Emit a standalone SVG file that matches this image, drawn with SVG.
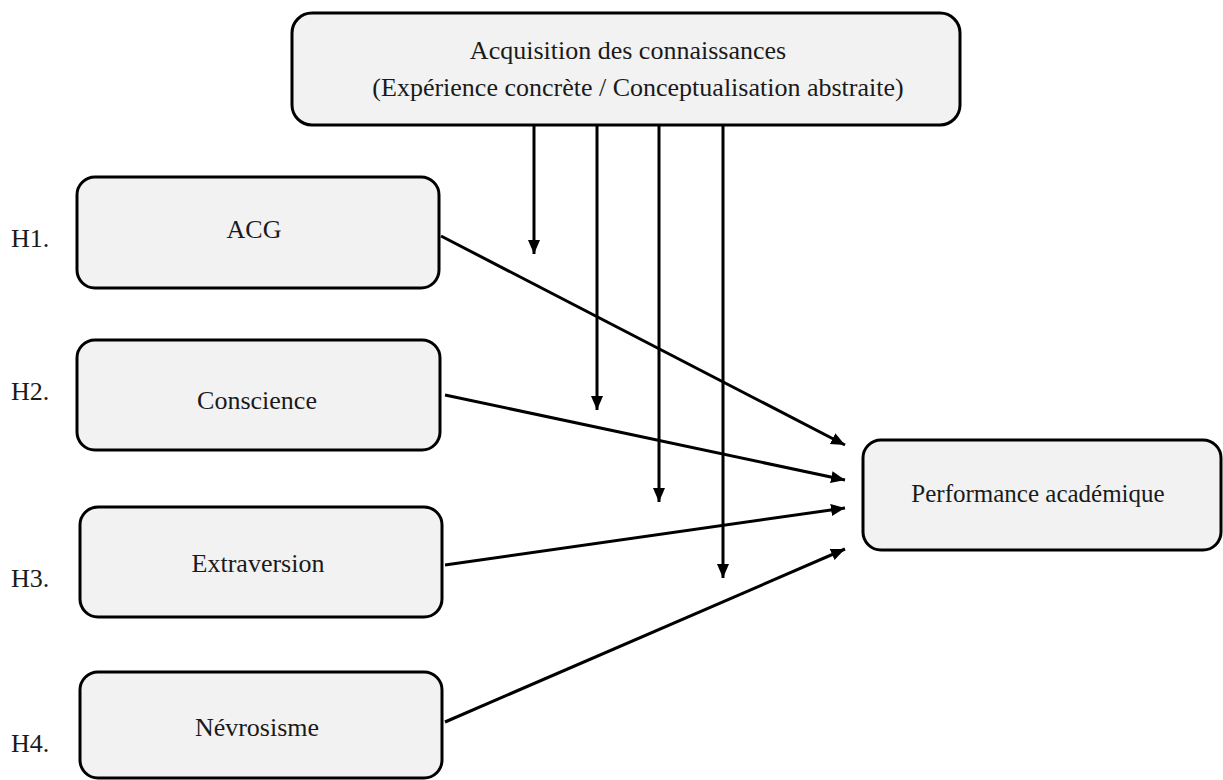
<svg xmlns="http://www.w3.org/2000/svg" width="1223" height="780" viewBox="0 0 1223 780">
<style>
.box{fill:#f2f2f2;stroke:#000;stroke-width:3}
.t{font-family:"Liberation Serif",serif;font-size:26px;fill:#1a1a1a;text-anchor:middle}
.h{font-family:"Liberation Serif",serif;font-size:26px;fill:#1a1a1a}
.c{stroke:#000;stroke-width:3;fill:none;marker-end:url(#ah)}
</style>
<defs>
<marker id="ah" markerUnits="userSpaceOnUse" markerWidth="16" markerHeight="14" refX="14" refY="6" orient="auto">
<path d="M0,0 L14,6 L0,12 z" fill="#000"/>
</marker>
</defs>
<rect width="1223" height="780" fill="#fff"/>
<g id="connectors">
<line class="c" x1="534" y1="125" x2="534" y2="254"/>
<line class="c" x1="597" y1="125" x2="597" y2="410"/>
<line class="c" x1="659" y1="125" x2="659" y2="502"/>
<line class="c" x1="723" y1="125" x2="723" y2="578"/>
<line class="c" x1="441" y1="236" x2="845" y2="445"/>
<line class="c" x1="445" y1="395" x2="845" y2="480"/>
<line class="c" x1="445" y1="565" x2="845" y2="508"/>
<line class="c" x1="445" y1="722" x2="845" y2="549"/>
</g>
<g id="top">
<rect class="box" x="292" y="13" width="668" height="112" rx="20"/>
<text class="t" x="628" y="59">Acquisition des connaissances</text>
<text class="t" x="638" y="96">(Expérience concrète / Conceptualisation abstraite)</text>
</g>
<g id="acg">
<rect class="box" x="77" y="177" width="362" height="111" rx="18"/>
<text class="t" x="254" y="238">ACG</text>
</g>
<g id="conscience">
<rect class="box" x="77" y="340" width="363" height="110" rx="18"/>
<text class="t" x="257" y="409">Conscience</text>
</g>
<g id="extraversion">
<rect class="box" x="80" y="507" width="362" height="110" rx="18"/>
<text class="t" x="258" y="572">Extraversion</text>
</g>
<g id="nevrosisme">
<rect class="box" x="80" y="672" width="362" height="106" rx="18"/>
<text class="t" x="257" y="736">Névrosisme</text>
</g>
<g id="performance">
<rect class="box" x="863" y="440" width="358" height="110" rx="18"/>
<text class="t" x="1038" y="502" style="font-size:25px">Performance académique</text>
</g>
<g id="labels">
<text class="h" x="11" y="247">H1.</text>
<text class="h" x="11" y="400">H2.</text>
<text class="h" x="11" y="587">H3.</text>
<text class="h" x="11" y="752">H4.</text>
</g>
</svg>
